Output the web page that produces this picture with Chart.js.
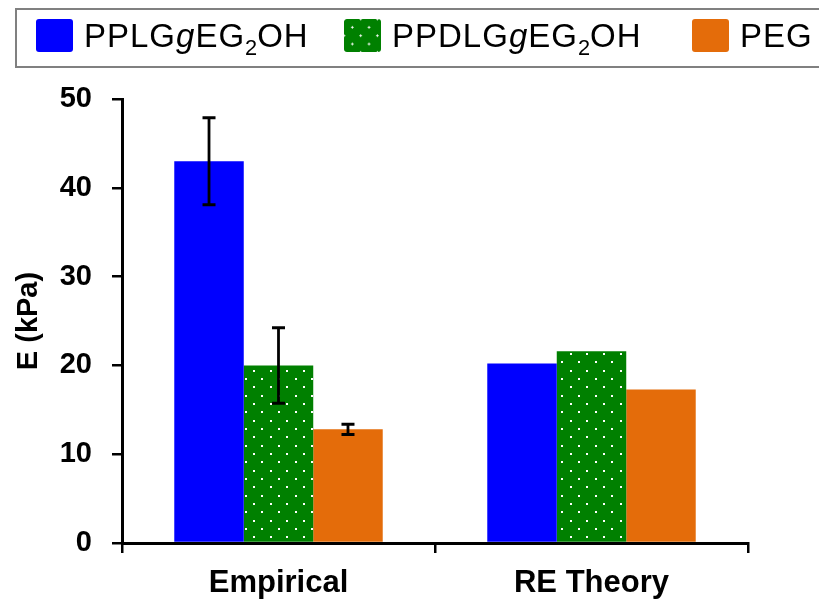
<!DOCTYPE html>
<html>
<head>
<meta charset="utf-8">
<script src="https://cdn.jsdelivr.net/npm/chart.js@4/dist/chart.umd.min.js"></script>
<style>
  html, body { margin: 0; padding: 0; background: #fff; }
  #wrap { position: relative; width: 819px; height: 607px; overflow: hidden; }
  #chart { position: absolute; left: 0; top: 0; }
  #legendBox { position: absolute; left: 15px; top: 8px; width: 840px; height: 56px;
    border: 2px solid #808080; box-sizing: content-box; }
  .item { position: absolute; top: 19px; height: 33px; display: flex; align-items: center;
    font-family: "Liberation Sans", Arial, sans-serif; font-size: 33px; letter-spacing: 1px;
    color: #000; white-space: nowrap; }
  .sw { width: 37px; height: 33px; border-radius: 3px; margin-right: 11px; flex: none; }
  .item sub { font-size: 0.66em; vertical-align: baseline; position: relative; top: 0.4em; letter-spacing: 0; }
  .dots { background-color: #008000;
    background-image: radial-gradient(circle, #fff 0.9px, transparent 1.3px),
                      radial-gradient(circle, #fff 0.9px, transparent 1.3px);
    background-size: 16.7px 16.7px, 16.7px 16.7px;
    background-position: 0 0, 8.35px 8.35px; }
</style>
</head>
<body>
<div id="wrap">
  <canvas id="chart" width="819" height="607"></canvas>
  <div id="legendBox"></div>
  <div class="item" style="left:36px"><span class="sw" style="background:#0000FF"></span><span>PPLG<i>g</i>EG<sub>2</sub>OH</span></div>
  <div class="item" style="left:344px"><span class="sw dots"></span><span>PPDLG<i>g</i>EG<sub>2</sub>OH</span></div>
  <div class="item" style="left:692px"><span class="sw" style="background:#E46C0A"></span><span>PEG</span></div>
</div>
<script>
// ---- data ----
const categories = ['Empirical', 'RE Theory'];
const seriesNames = ['PPLGgEG2OH', 'PPDLGgEG2OH', 'PEG'];
const pplgValues = [43.0, 20.2];
const pplgErrors = [4.9, 0];
const ppdlgValues = [20.0, 21.6];
const ppdlgErrors = [4.25, 0];
const pegValues = [12.8, 17.3];
const pegErrors = [0.58, 0];
const yTicks = [0, 10, 20, 30, 40, 50];

// dotted pattern for the green series
function makeDots() {
  const c = document.createElement('canvas');
  c.width = 50; c.height = 50;
  const g = c.getContext('2d');
  g.fillStyle = '#008000';
  g.fillRect(0, 0, 50, 50);
  g.fillStyle = '#ffffff';
  const s = 50 / 3;
  for (let r = 0; r < 6; r++) {
    for (let k = 0; k < 3; k++) {
      const x = k * s + (r % 2 ? s / 2 : 0) + 4;
      const y = r * s / 2 + 4;
      g.fillRect(Math.round(x) - 1, Math.round(y) - 1, 2, 2);
    }
  }
  return g.createPattern(c, 'repeat');
}

const errorBars = {
  id: 'errorBars',
  afterDatasetsDraw(chart) {
    const ctx = chart.ctx;
    const ys = chart.scales.y;
    chart.data.datasets.forEach((ds, i) => {
      const meta = chart.getDatasetMeta(i);
      meta.data.forEach((el, j) => {
        const e = ds.errors[j];
        if (!e) return;
        const v = ds.data[j];
        const yt = ys.getPixelForValue(v + e);
        const yb = ys.getPixelForValue(v - e);
        ctx.save();
        ctx.strokeStyle = '#000';
        ctx.lineWidth = 2.8;
        ctx.beginPath();
        ctx.moveTo(el.x, yt); ctx.lineTo(el.x, yb);
        ctx.stroke();
        ctx.lineWidth = 3;
        ctx.beginPath();
        ctx.moveTo(el.x - 6.5, yt); ctx.lineTo(el.x + 6.5, yt);
        ctx.moveTo(el.x - 6.5, yb); ctx.lineTo(el.x + 6.5, yb);
        ctx.stroke();
        ctx.restore();
      });
    });
  }
};

new Chart(document.getElementById('chart'), {
  type: 'bar',
  data: {
    labels: categories,
    datasets: [
      { label: seriesNames[0], data: pplgValues, errors: pplgErrors, backgroundColor: '#0000FF', borderWidth: 0 },
      { label: seriesNames[1], data: ppdlgValues, errors: ppdlgErrors, backgroundColor: makeDots(), borderWidth: 0 },
      { label: seriesNames[2], data: pegValues, errors: pegErrors, backgroundColor: '#E46C0A', borderWidth: 0 }
    ]
  },
  options: {
    responsive: false,
    animation: false,
    devicePixelRatio: 1,
    layout: { padding: { top: 99, right: 71, bottom: 0, left: 0 } },
    datasets: { bar: { categoryPercentage: 0.666, barPercentage: 1.0 } },
    plugins: { legend: { display: false }, tooltip: { enabled: false } },
    scales: {
      x: {
        afterFit(s) { s.height = 64; },
        grid: { offset: true, drawOnChartArea: false, drawTicks: true, tickLength: 10, color: '#000', lineWidth: 2.5 },
        border: { display: true, color: '#000', width: 3 },
        ticks: { color: '#000', padding: 12, font: { family: 'Liberation Sans', size: 31, weight: 'bold' } }
      },
      y: {
        min: 0, max: 50,
        afterFit(s) { s.width = 122; },
        afterBuildTicks(s) { s.ticks = yTicks.map(v => ({ value: v })); },
        grid: { drawOnChartArea: false, drawTicks: true, tickLength: 10, color: '#000', lineWidth: 2.5 },
        border: { display: true, color: '#000', width: 3 },
        ticks: { color: '#000', padding: 20, font: { family: 'Liberation Sans', size: 29, weight: 'bold' } },
        title: { display: true, text: 'E (kPa)', color: '#000', padding: { top: 12, bottom: 0 },
          font: { family: 'Liberation Sans', size: 29, weight: 'bold' } }
      }
    }
  },
  plugins: [errorBars]
});
</script>
</body>
</html>
